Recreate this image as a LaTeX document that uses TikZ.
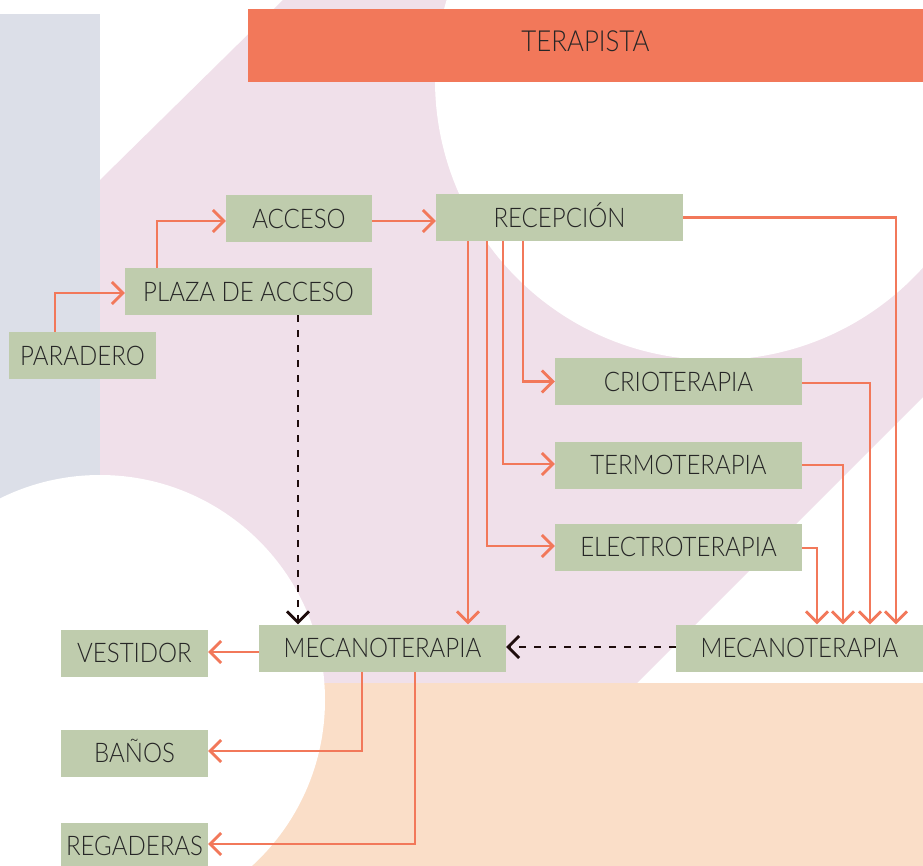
\documentclass[tikz,border=0pt]{standalone}
\usepackage{fontspec}
\setmainfont{Lato Light}[FakeStretch=0.89]
\usetikzlibrary{arrows.meta,positioning}
\definecolor{sage}{HTML}{BFCCAD}
\definecolor{coral}{HTML}{F2785A}
\definecolor{blush}{HTML}{F0E0EA}
\definecolor{mist}{HTML}{DCDFE8}
\definecolor{peach}{HTML}{FADEC8}
\definecolor{ink}{HTML}{262626}
\definecolor{soot}{HTML}{1E0C0C}

\begin{document}
\begin{tikzpicture}[x=1pt, y=-1pt,
  box/.style={fill=sage, inner sep=0pt, minimum width=247pt, minimum height=47pt,
              text=ink, font=\fontsize{27}{27}\selectfont, text height=19.5pt, text depth=0pt},
  small/.style={box, minimum width=147pt},
  bar/.style={box, fill=coral, minimum width=675pt, minimum height=73pt,
              font=\fontsize{29}{29}\selectfont, text height=21pt, text depth=9pt},
  arr/.style={draw=coral, line width=2.7pt, -{Straight Barb[length=11pt, width=22pt]}},
  dasharr/.style={draw=soot, line width=2.8pt, dash pattern=on 7pt off 8pt,
                  -{Straight Barb[length=11pt, width=22pt]}}]
  \useasboundingbox (0,0) rectangle (923,866);
  \begin{scope}
    \clip (0,0) rectangle (923,866);
    \fill[white] (0,0) rectangle (923,866);
    \fill[mist] (0,14) rectangle (100,866);
    \fill[blush] (100,180) -- (283,0) -- (923,0) -- (923,397) -- (637,683) -- (100,683) -- cycle;
    \fill[peach] (0,683) rectangle (923,866);
    \fill[white] (715,80) circle[radius=280];
    \fill[white] (100,700) circle[radius=225];
  \end{scope}

  \node[bar] (terap) at (585.5,45.5) {TERAPISTA};
  \node[small, minimum width=146pt] (acceso) at (299,218.5) {ACCESO};
  \node[box] (recep) at (559.5,217.5) {RECEPCIÓN};
  \node[box] (plaza) at (248.5,291.5) {PLAZA DE ACCESO};
  \node[small] (parad) at (82.5,355.5) {PARADERO};
  \node[box] (crio) at (678.5,381.5) {CRIOTERAPIA};
  \node[box] (termo) at (678.5,465) {TERMOTERAPIA};
  \node[box] (electro) at (678.5,547) {ELECTROTERAPIA};
  \node[box] (mecaL) at (382.5,648) {MECANOTERAPIA};
  \node[box] (mecaR) at (799.5,648) {MECANOTERAPIA};
  \node[small] (vest) at (134.5,653) {VESTIDOR};
  \node[small] (banos) at (134.5,753) {BAÑOS};
  \node[small] (rega) at (134.5,846) {REGADERAS};

  \draw[arr] ([xshift=-27.5pt]parad.north) |- ([yshift=-1.5pt]plaza.west);
  \draw[arr] ([xshift=-91.5pt]plaza.north) |- ([yshift=-2.5pt]acceso.west);
  \draw[arr] ([yshift=-2.5pt]acceso.east) -- ([yshift=-2.5pt]acceso.east -| recep.west);
  \draw[arr] (recep.east) -| ([xshift=96.5pt]mecaR.north);
  \draw[arr] ([xshift=-36.5pt]recep.south) |- (crio.west);
  \draw[arr] ([xshift=-56.5pt]recep.south) |- ([yshift=1pt]termo.west);
  \draw[arr] ([xshift=-72.5pt]recep.south) |- ([yshift=1pt]electro.west);
  \draw[arr] ([xshift=-91.5pt]recep.south) -- ([xshift=-91.5pt]recep.south |- mecaL.north);
  \draw[arr] ([yshift=-1.5pt]crio.east) -| ([xshift=70.5pt]mecaR.north);
  \draw[arr] (termo.east) -| ([xshift=43.5pt]mecaR.north);
  \draw[arr] ([yshift=-1pt]electro.east) -| ([xshift=17.5pt]mecaR.north);
  \draw[dasharr] ([yshift=1pt]mecaR.west) -- ([yshift=1pt]mecaL.east);
  \draw[dasharr] ([xshift=49.5pt]plaza.south) -- ([xshift=-84.5pt]mecaL.north);
  \draw[arr] ([yshift=1pt]vest.east -| mecaL.west) -- ([yshift=1pt]vest.east);
  \draw[arr] ([xshift=-20.5pt]mecaL.south) |- ([yshift=2pt]banos.east);
  \draw[arr] ([xshift=32.5pt]mecaL.south) |- ([yshift=2pt]rega.east);
\end{tikzpicture}
\end{document}
